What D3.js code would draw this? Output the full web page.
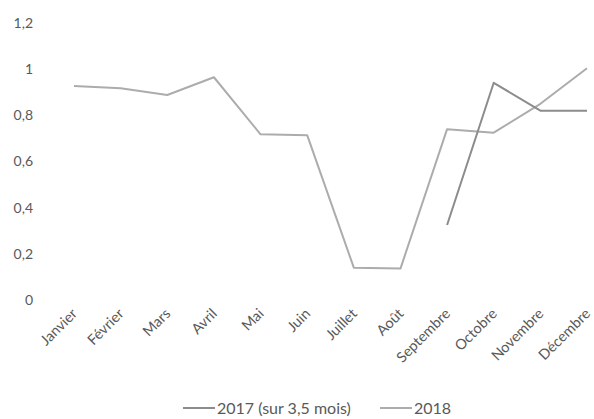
<!DOCTYPE html>
<html>
<head>
<meta charset="utf-8">
<script src="https://cdn.jsdelivr.net/npm/d3@7"></script>
<style>
  html, body { margin: 0; padding: 0; background: #fff; }
  text { font-family: Lato, "Open Sans", "Liberation Sans", sans-serif; fill: #595959; }
</style>
</head>
<body>
<svg id="chart" width="594" height="419"></svg>
<script>
const months = ["Janvier","Février","Mars","Avril","Mai","Juin","Juillet","Août","Septembre","Octobre","Novembre","Décembre"];
const values2017 = [null,null,null,null,null,null,null,null,0.325,0.941,0.82,0.82];
const values2018 = [0.927,0.917,0.888,0.965,0.718,0.714,0.140,0.136,0.740,0.725,0.850,1.004];
const yTicks = [0,0.2,0.4,0.6,0.8,1,1.2];
const seriesNames = ["2017 (sur 3,5 mois)","2018"];
const seriesColors = ["#8c8c8c","#acacac"];

const svg = d3.select("#chart");
const x = d3.scalePoint().domain(months).range([74, 587]);
const y = d3.scaleLinear().domain([0, 1.2]).range([300, 23]);

const fmt = v => String(v).replace(".", ",");

// y axis labels
const yAxis = d3.axisLeft(y).tickValues(yTicks).tickFormat(fmt).tickSize(0).tickPadding(0);
const gy = svg.append("g").attr("transform", "translate(33,0)").call(yAxis);
gy.select(".domain").remove();
gy.selectAll("text").style("font-size", "14px").attr("fill", "#595959");

// x axis labels
const xAxis = d3.axisBottom(x).tickSize(0).tickPadding(0);
const gx = svg.append("g").attr("transform", "translate(0,311)").call(xAxis);
gx.select(".domain").remove();
gx.selectAll("text")
  .style("font-size", "14.5px")
  .attr("fill", "#595959")
  .attr("text-anchor", "end")
  .attr("y", 0)
  .attr("dy", "0.35em")
  .attr("transform", "translate(0,0) rotate(-45)");

const line = d3.line()
  .defined(d => d.v !== null)
  .x(d => x(d.m))
  .y(d => y(d.v));

[values2018, values2017].forEach((vals, i) => {
  const idx = i === 0 ? 1 : 0;
  svg.append("path")
    .datum(months.map((m, j) => ({ m, v: vals[j] })))
    .attr("fill", "none")
    .attr("stroke", seriesColors[idx])
    .attr("stroke-width", 2)
    .attr("stroke-linejoin", "round")
    .attr("d", line);
});

// legend
const legendX = [183, 380];
seriesNames.forEach((name, i) => {
  const g = svg.append("g").attr("transform", `translate(${legendX[i]},408)`);
  g.append("line").attr("x1", 0).attr("x2", 32).attr("y1", 0).attr("y2", 0)
    .attr("stroke", seriesColors[i]).attr("stroke-width", 2);
  g.append("text").attr("x", 34).attr("y", 0).attr("dy", "0.35em")
    .style("font-size", "16px").attr("fill", "#595959").text(name);
});
</script>
</body>
</html>
